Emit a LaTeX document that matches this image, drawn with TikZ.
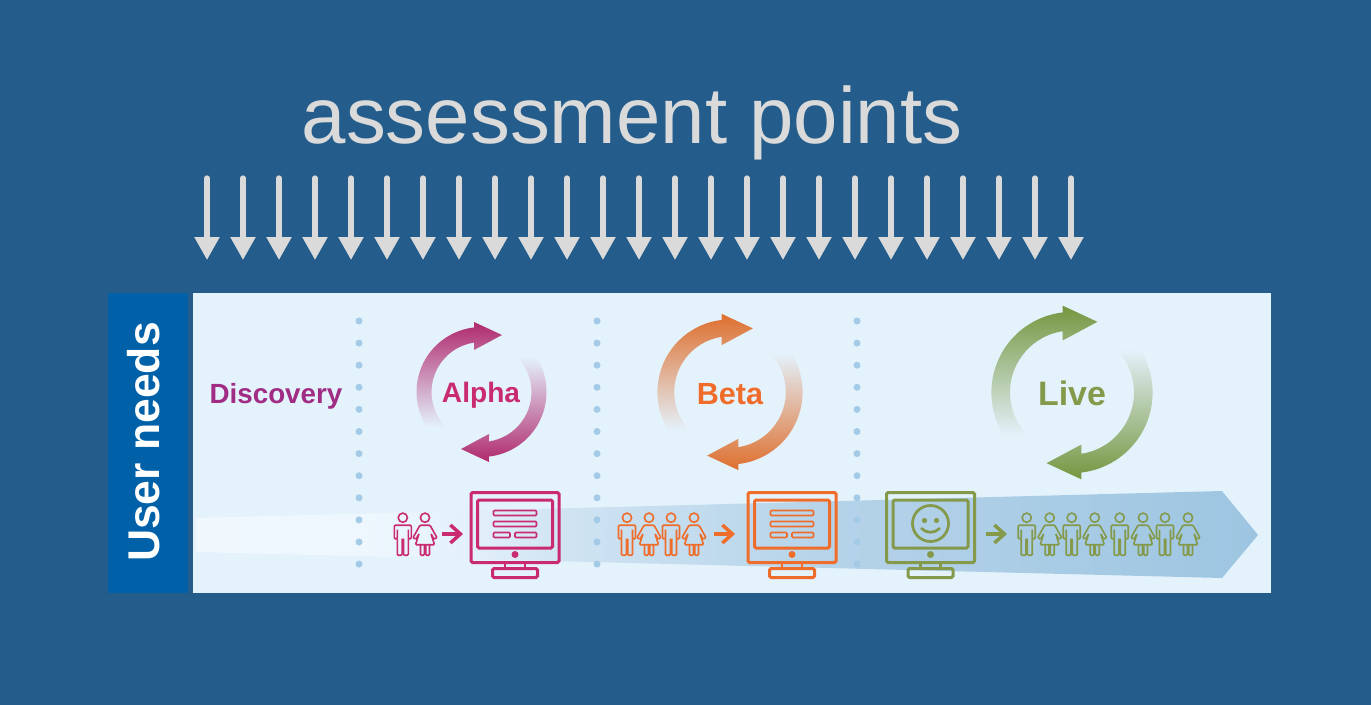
\documentclass[tikz,border=0pt]{standalone}
\usepackage{fontspec}
\setmainfont{Liberation Sans}
\usetikzlibrary{arrows.meta}
\definecolor{pagec}{HTML}{245D8C}
\definecolor{panelc}{HTML}{E4F2FC}
\definecolor{barc}{HTML}{0060A8}
\definecolor{greyc}{HTML}{DADADA}
\definecolor{dotc}{HTML}{A3CAE6}
\definecolor{discoveryc}{HTML}{A02C84}
\definecolor{alphac}{HTML}{C92A70}
\definecolor{alphadark}{HTML}{B0296E}
\definecolor{betac}{HTML}{F06C2A}
\definecolor{betadark}{HTML}{DE6F2E}
\definecolor{livec}{HTML}{84994A}
\definecolor{livedark}{HTML}{76963F}
\definecolor{bandA}{HTML}{F0F8FE}
\definecolor{bandB}{HTML}{EEF7FE}
\definecolor{bandC}{HTML}{E4F1FB}
\definecolor{bandD}{HTML}{CFE3F2}
\definecolor{bandE}{HTML}{B5D3E9}
\definecolor{bandF}{HTML}{9DC5E1}
\pgfdeclarehorizontalshading{bandshade}{100bp}{color(0bp)=(bandA); color(25bp)=(bandA); color(33bp)=(bandB); color(37.5bp)=(bandC); color(42.5bp)=(bandD); color(55bp)=(bandE); color(75bp)=(bandF); color(100bp)=(bandF)}
\tikzset{
  every pic/.style={yscale=-1},
  title/.style={text=greyc,font=\fontsize{45.4}{50}\selectfont,anchor=base},
  sidelabel/.style={text=white,font=\bfseries\fontsize{25.3}{30}\selectfont,rotate=90},
  stage/.style={font=\bfseries\fontsize{#1}{24}\selectfont},
  point/.style={draw=greyc,line width=0.105cm,line cap=round,-{Triangle[length=0.46cm,width=0.48cm]}},
  flow/.style={line width=0.07cm,-{Straight Barb[length=0.2cm,width=0.36cm]}},
  icon/.style={draw,line width=0.06cm,rounded corners=0.03cm},
  thin icon/.style={draw,line width=0.032cm,rounded corners=0.02cm},
  pics/cyc/.style={code={
    \path[top color=#1,bottom color=panelc]
      (147.4:65) arc[start angle=147.4,end angle=263.4,radius=65]
      -- (-7.5,-70) -- (20.5,-57) -- (-7.5,-42) -- (261.4:50)
      arc[start angle=261.4,end angle=135.6,radius=50] -- cycle;
    \path[top color=panelc,bottom color=#1]
      (327.4:65) arc[start angle=327.4,end angle=443.4,radius=65]
      -- (7.5,70) -- (-20.5,57) -- (7.5,42) -- (81.4:50)
      arc[start angle=81.4,end angle=-44.4,radius=50] -- cycle;
  }},
  pics/man/.style={code={
    \draw[thin icon] (0,0) circle (4.6);
    \draw[thin icon] (-5.5,12) -- (-5.5,21) -- (-8.5,21) -- (-8.5,7.5) -- (8.5,7.5) -- (8.5,21)
      -- (5.5,21) -- (5.5,12);
    \draw[thin icon] (-5.5,21) -- (-5.5,37.5) -- (-0.7,37.5) -- (-0.7,21);
    \draw[thin icon] (5.5,21) -- (5.5,37.5) -- (0.7,37.5) -- (0.7,21);
  }},
  pics/woman/.style={code={
    \draw[thin icon] (0,0) circle (4.6);
    \draw[thin icon] (-5,7.5) -- (5,7.5) -- (12,20) -- (9,21.5) -- (6,16) -- (9.5,27)
      -- (-9.5,27) -- (-6,16) -- (-9,21.5) -- (-12,20) -- cycle;
    \draw[thin icon] (-4.5,27) -- (-4.5,37.5) -- (-0.7,37.5) -- (-0.7,27);
    \draw[thin icon] (4.5,27) -- (4.5,37.5) -- (0.7,37.5) -- (0.7,27);
  }},
  pics/screen/.style={code={
    \draw[icon] (-44,-35) rectangle (44,35);
    \draw[icon] (-37.5,-27.5) rectangle (37.5,20.5);
    \fill (0,27) circle (3.5);
    \draw[line width=0.05cm] (-10,35) -- (-10,41) (10,35) -- (10,41);
    \draw[icon] (-22.5,41) rectangle (22.5,50);
  }},
  pics/form/.style={code={
    \draw[thin icon] (-21.5,-17) rectangle (21.5,-12);
    \draw[thin icon] (-21.5,-6) rectangle (21.5,-1);
    \draw[thin icon] (-21.5,5) rectangle (-5,10);
    \draw[thin icon] (0,5) rectangle (21.5,10);
  }},
  pics/smile/.style={code={
    \draw[line width=0.055cm] (0,-4) circle (18);
    \fill (-6,-7) circle (2.6) (6,-7) circle (2.6);
    \draw[line width=0.055cm,line cap=round] (-9,1) .. controls (-4,6) and (4,6) .. (9,1);
  }},
}
\begin{document}
\begin{tikzpicture}[x=0.02cm,y=0.02cm,yscale=-1]
  \fill[pagec] (0,0) rectangle (1371,705);
  \useasboundingbox (0,0) rectangle (1371,705);
  \node[title] (heading) at (632,144) {assessment points};
  % assessment arrows
  \foreach \i in {0,...,24} {
    \coordinate (top\i) at ({207+36*\i},178);
    \coordinate (tip\i) at ({207+36*\i},260);
    \draw[point] (top\i) -- (tip\i);
  }
  \fill[barc] (108,293) rectangle (188,593);
  \node[sidelabel] (needs) at (144,442) {User needs};
  \fill[panelc] (193,293) rectangle (1271,593);
  % the growing band
  \path[shading=bandshade]
    (196,518) -- (1222,491) -- (1258,535) -- (1222,578) -- (196,552) -- cycle;
  \foreach \x in {359,597,857}
    \foreach \y in {0,...,11}
      \fill[dotc] (\x,{321+22.1*\y}) circle (3.5);
  \node[stage=15.8,text=discoveryc] (discovery) at (276,396) {Discovery};
  \pic at (481.5,392) {cyc=alphadark};
  \pic[scale=1.116] at (730,392) {cyc=betadark};
  \pic[scale=1.24] at (1072,392.5) {cyc=livedark};
  \node[stage=16,text=alphac] (alpha) at (481,395) {Alpha};
  \node[stage=17.4,text=betac] (beta) at (730,394) {Beta};
  \node[stage=19.3,text=livec] (live) at (1072,393) {Live};
  % alpha users
  \begin{scope}[color=alphac]
    \pic at (402.8,517.7) {man};
    \pic at (425,517.7) {woman};
    \coordinate (alphaA) at (442,534);
    \coordinate (alphaB) at (463,534);
    \draw[flow] (alphaA) -- (alphaB);
    \pic at (515,527.5) {screen};
    \pic at (515,527.5) {form};
  \end{scope}
  % beta users
  \begin{scope}[color=betac]
    \foreach \x/\kind in {627/man,649/woman,671/man,694/woman}
      \pic at (\x,517.7) {\kind};
    \coordinate (betaA) at (714,534);
    \coordinate (betaB) at (735,534);
    \draw[flow] (betaA) -- (betaB);
    \pic at (792,527.5) {screen};
    \pic at (792,527.5) {form};
  \end{scope}
  % live users
  \begin{scope}[color=livec]
    \pic at (930.5,527.5) {screen};
    \pic at (930.5,527.5) {smile};
    \coordinate (liveA) at (986,534);
    \coordinate (liveB) at (1007,534);
    \draw[flow] (liveA) -- (liveB);
    \foreach \x/\kind in {1026.7/man,1049.7/woman,1071.7/man,1094.7/woman,1119.7/man,1143/woman,1165/man,1188/woman}
      \pic at (\x,517.7) {\kind};
  \end{scope}
\end{tikzpicture}
\end{document}
